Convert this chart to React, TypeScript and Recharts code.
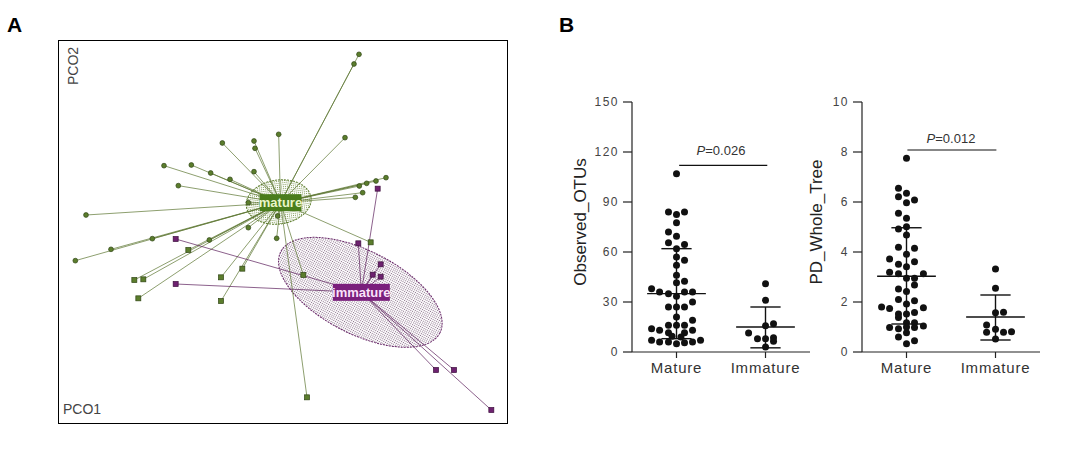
import React from 'react';
import { ScatterChart, Scatter, XAxis, YAxis, ReferenceLine, ReferenceArea, ReferenceDot } from 'recharts';

const FONT = '"Liberation Sans", Arial, sans-serif';

// ---- Panel A: PCoA coordinates (PCO1 / PCO2) ----
const matureP1 = [0.227, 0.212, -0.014, 0.185, -0.183, -0.088, -0.085, -0.358, -0.276, -0.218, -0.16, -0.088, -0.315, 0.308, 0.278, 0.25, 0.228, 0.238, 0.216, -0.592, -0.105, -0.105, -0.02, -0.017, 0.262, -0.624, -0.517, -0.393, -0.222, -0.285, -0.447, -0.42, -0.435, -0.187, -0.123, -0.187, 0.06, 0.071];
const matureP2 = [0.537, 0.508, 0.297, 0.287, 0.271, 0.277, 0.255, 0.203, 0.205, 0.181, 0.162, 0.185, 0.143, 0.167, 0.157, 0.15, 0.142, 0.122, 0.108, 0.055, 0.092, 0.017, -0.015, 0.052, -0.027, -0.082, -0.048, -0.016, -0.02, -0.05, -0.14, -0.138, -0.195, -0.132, -0.106, -0.203, -0.125, -0.492];
const matureMarker = 'ccccccccccccccccccccccccsccccsssssssss';
const immatureP1 = [0.283, 0.225, 0.292, 0.268, 0.292, -0.323, -0.323, 0.458, 0.512, 0.624];
const immatureP2 = [0.134, -0.03, -0.093, -0.124, -0.13, -0.017, -0.152, -0.41, -0.41, -0.53];
const centroidP1 = [-0.0085, 0.234];
const centroidP2 = [0.092, -0.177];
// ellipses: centre, semi axes, rotation (deg)
const ellMature = { x: -0.014, y: 0.094, a: 0.098, b: 0.066, rot: -8 };
const ellImmature = { x: 0.231, y: -0.177, a: 0.268, b: 0.125, rot: 27 };

// ---- Panel B ----
const groups = ['Mature', 'Immature'];

const otuMatureOff = [0, -0.09, 0, 0.09, 0, -0.09, 0, -0.09, 0.09, 0, 0, 0.09, 0, 0, 0, 0.09, -0.28, -0.19, -0.09, 0, 0.09, 0.18, 0.18, -0.09, 0, 0.09, 0, 0.18, -0.09, 0, 0.09, -0.28, -0.19, 0.18, -0.09, 0.09, -0.05, 0.05, -0.28, -0.19, -0.09, 0, 0.09, 0.18, 0.27];
const otuMature = [107, 84, 82.5, 84, 77.5, 72, 69.5, 65.5, 64.5, 62, 57, 55, 52, 46, 41.5, 42.5, 38, 36, 35, 33.5, 36, 36, 30, 27, 27, 27, 21, 19, 16, 16, 16, 14, 13, 13, 11.5, 11.5, 9.5, 9, 7, 6, 6, 5, 5.5, 6, 7];
const otuImmatureOff = [0, 0, 0, 0.09, -0.19, -0.09, 0, 0.09, 0.09, 0];
const otuImmature = [41, 31, 15.8, 17, 11.4, 8, 8, 8.5, 6.5, 3];
const otuMean = [35, 15];
const otuLow = [8, 2.5];
const otuHigh = [62, 27];

const pdMatureOff = [0, -0.09, 0, -0.09, 0.09, 0, -0.09, 0, -0.09, 0, 0, -0.09, 0.09, 0, -0.19, -0.09, 0, 0.09, -0.19, -0.09, 0, 0.09, 0.19, 0.09, -0.09, 0, -0.09, 0.09, 0, -0.28, -0.19, 0.19, -0.09, 0, 0.09, -0.09, 0, 0.09, -0.19, -0.09, 0, 0.09, 0.19, 0, -0.09, 0, 0.09];
const pdMature = [7.75, 6.55, 6.35, 6.21, 6.08, 5.97, 5.55, 5.35, 4.92, 5.01, 4.68, 4.19, 4.15, 3.91, 3.72, 3.51, 3.41, 3.61, 3.19, 3.13, 2.95, 2.95, 3.13, 2.68, 2.52, 2.42, 2.1, 2.05, 1.92, 1.8, 1.74, 1.77, 1.52, 1.52, 1.58, 1.38, 1.17, 1.17, 0.98, 0.93, 1.0, 0.98, 1.04, 0.77, 0.6, 0.33, 0.45];
const pdImmatureOff = [0, 0, 0, 0.09, -0.1, -0.1, 0, 0.09, 0.18, 0];
const pdImmature = [3.32, 2.55, 1.57, 1.59, 1.08, 0.79, 0.91, 0.79, 0.81, 0.52];
const pdMean = [3.03, 1.4];
const pdLow = [1.12, 0.48];
const pdHigh = [4.97, 2.28];

const otuTicks = [0, 30, 60, 90, 120, 150];
const pdTicks = [0, 2, 4, 6, 8, 10];

const ellipseShape = (id: string, dot: string, stroke: string, rot: number) => (p: any) => {
  const w = Math.abs(p.width);
  const h = Math.abs(p.height);
  const cx = p.x + p.width / 2;
  const cy = p.y + p.height / 2;
  return (
    <g>
      <defs>
        <pattern id={id} width={2} height={2} patternUnits="userSpaceOnUse">
          <rect width={1} height={1} fill={dot} />
        </pattern>
      </defs>
      <ellipse cx={cx} cy={cy} rx={w / 2} ry={h / 2} transform={`rotate(${rot} ${cx} ${cy})`}
        fill={`url(#${id})`} stroke={stroke} strokeWidth={1} strokeDasharray="2 1" />
    </g>
  );
};

const tagShape = (text: string, bg: string, fg: string, w: number) => (p: any) => (
  <g>
    <rect x={p.cx - w / 2} y={p.cy - 8.5} width={w} height={17} fill={bg} />
    <text x={p.cx} y={p.cy + 4.5} textAnchor="middle" fill={fg} fontSize={13} fontWeight="bold" fontFamily={FONT}>{text}</text>
  </g>
);

const pointShape = (fill: string, stroke: string) => (p: any) =>
  p.payload.m === 's'
    ? <rect x={p.cx - 2.5} y={p.cy - 2.5} width={5} height={5} fill={fill} stroke={stroke} strokeWidth={0.7} />
    : <circle cx={p.cx} cy={p.cy} r={2.4} fill={fill} stroke={stroke} strokeWidth={0.7} />;

function PcoaPanel() {
  const mature = matureP1.map((x, i) => ({ x, y: matureP2[i], m: matureMarker[i] }));
  const immature = immatureP1.map((x, i) => ({ x, y: immatureP2[i], m: 's' }));
  return (
    <div style={{ position: 'absolute', left: 58, top: 40, width: 450, height: 384, border: '1px solid #000', boxSizing: 'border-box' }}>
      <ScatterChart width={448} height={382} margin={{ top: 0, right: 0, bottom: 0, left: 0 }}>
        <XAxis type="number" dataKey="x" domain={[-0.673, 0.671]} allowDataOverflow hide />
        <YAxis type="number" dataKey="y" domain={[-0.569, 0.577]} allowDataOverflow hide />
        <ReferenceArea x1={ellImmature.x - ellImmature.a} x2={ellImmature.x + ellImmature.a}
          y1={ellImmature.y - ellImmature.b} y2={ellImmature.y + ellImmature.b}
          shape={ellipseShape('dotPurple', '#8a6f8a', '#6a2a6a', ellImmature.rot)} ifOverflow="visible" />
        <ReferenceArea x1={ellMature.x - ellMature.a} x2={ellMature.x + ellMature.a}
          y1={ellMature.y - ellMature.b} y2={ellMature.y + ellMature.b}
          shape={ellipseShape('dotGreen', '#7f9a55', '#5d7d2d', ellMature.rot)} ifOverflow="visible" />
        {mature.map((p, i) => (
          <ReferenceLine key={'ml' + i} segment={[{ x: p.x, y: p.y }, { x: centroidP1[0], y: centroidP2[0] }]}
            stroke="#5b7530" strokeWidth={0.7} ifOverflow="visible" />
        ))}
        {immature.map((p, i) => (
          <ReferenceLine key={'il' + i} segment={[{ x: p.x, y: p.y }, { x: centroidP1[1], y: centroidP2[1] }]}
            stroke="#5a1d5a" strokeWidth={0.7} ifOverflow="visible" />
        ))}
        <Scatter data={mature} shape={pointShape('#5b7d2c', '#2f4515')} isAnimationActive={false} />
        <Scatter data={immature} shape={pointShape('#6e2270', '#3d0f3d')} isAnimationActive={false} />
        <ReferenceDot x={centroidP1[0]} y={centroidP2[0]} shape={tagShape('mature', '#4a7d1c', '#eaf5c8', 42)} ifOverflow="visible" />
        <ReferenceDot x={centroidP1[1]} y={centroidP2[1]} shape={tagShape('immature', '#7a1f7c', '#fbe3fb', 57)} ifOverflow="visible" />
      </ScatterChart>
    </div>
  );
}

interface DotPlotProps {
  left: number;
  yLabel: string;
  labelDx: number;
  ticks: number[];
  mature: number[];
  matureOff: number[];
  immature: number[];
  immatureOff: number[];
  mean: number[];
  low: number[];
  high: number[];
  bracketY: number;
  bracketX: number[];
  pText: string;
  pY: number;
}

const yTick = (p: any) => (
  <text x={p.x} y={p.y} dy="0.35em" textAnchor="end" fontSize={12} fill="#444" fontFamily={FONT} letterSpacing={1.5}>
    {p.payload.value}
  </text>
);

const xTick = (p: any) => (
  <text x={p.x} y={p.y} dy="0.8em" textAnchor="middle" fontSize={15} fill="#333" fontFamily={FONT} letterSpacing={0.8}>
    {groups[p.payload.value - 1]}
  </text>
);

function DotPlot(props: DotPlotProps) {
  const { left, yLabel, labelDx, ticks, mature, matureOff, immature, immatureOff, mean, low, high, bracketY, bracketX, pText, pY } = props;
  const pts = [
    ...mature.map((v, i) => ({ x: 1 + matureOff[i], y: v })),
    ...immature.map((v, i) => ({ x: 2 + immatureOff[i], y: v })),
  ];
  const top = ticks[ticks.length - 1];
  return (
    <div style={{ position: 'absolute', left, top: 90 }}>
      <ScatterChart width={260} height={300} margin={{ top: 12, right: 10, bottom: 8, left: 0 }}>
        <XAxis type="number" dataKey="x" domain={[0.5, 2.5]} ticks={[1, 2]} allowDataOverflow
          height={30} tickSize={6} tickMargin={3}
          axisLine={{ stroke: '#222', strokeWidth: 1.2 }} tickLine={{ stroke: '#222', strokeWidth: 1.2 }}
          tick={xTick} />
        <YAxis type="number" dataKey="y" domain={[0, top]} ticks={ticks} allowDataOverflow width={72}
          tickSize={9} tickMargin={4}
          axisLine={{ stroke: '#222', strokeWidth: 1.2 }} tickLine={{ stroke: '#222', strokeWidth: 1.2 }}
          tick={yTick}
          label={{
            content: (lp: any) => {
              const vb = lp.viewBox;
              const cx = vb.x + labelDx;
              const cy = vb.y + vb.height / 2 - 5;
              return (
                <text x={cx} y={cy} transform={`rotate(-90 ${cx} ${cy})`} textAnchor="middle" dy="0.35em"
                  fontSize={17} fill="#222" fontFamily={FONT}>{yLabel}</text>
              );
            },
          }} />
        {[1, 2].map((g, i) => (
          <ReferenceLine key={'v' + g} segment={[{ x: g, y: low[i] }, { x: g, y: high[i] }]} stroke="#111" strokeWidth={1.4} />
        ))}
        {[1, 2].map((g, i) => (
          <ReferenceLine key={'m' + g} segment={[{ x: g - 0.33, y: mean[i] }, { x: g + 0.33, y: mean[i] }]} stroke="#111" strokeWidth={1.4} />
        ))}
        {[1, 2].map((g, i) => (
          <ReferenceLine key={'h' + g} segment={[{ x: g - 0.17, y: high[i] }, { x: g + 0.17, y: high[i] }]} stroke="#111" strokeWidth={1.4} />
        ))}
        {[1, 2].map((g, i) => (
          <ReferenceLine key={'l' + g} segment={[{ x: g - 0.17, y: low[i] }, { x: g + 0.17, y: low[i] }]} stroke="#111" strokeWidth={1.4} />
        ))}
        <ReferenceLine segment={[{ x: bracketX[0], y: bracketY }, { x: bracketX[1], y: bracketY }]} stroke="#111" strokeWidth={1.2} />
        <Scatter data={pts} isAnimationActive={false}
          shape={(p: any) => <circle cx={p.cx} cy={p.cy} r={3.5} fill="#111" />} />
        <ReferenceDot x={1.5} y={pY} ifOverflow="visible"
          shape={(p: any) => (
            <text x={p.cx} y={p.cy} dy="0.35em" textAnchor="middle" fontSize={13} fill="#333" fontFamily={FONT}>
              <tspan fontStyle="italic">P</tspan>{pText}
            </text>
          )} />
      </ScatterChart>
    </div>
  );
}

export default function App() {
  return (
    <div style={{ position: 'absolute', left: 0, top: 0, width: 1087, height: 449, background: '#fff', fontFamily: FONT }}>
      <div style={{ position: 'absolute', left: 7, top: 14, fontSize: 21, fontWeight: 'bold', lineHeight: '21px' }}>A</div>
      <div style={{ position: 'absolute', left: 559, top: 14, fontSize: 21, fontWeight: 'bold', lineHeight: '21px' }}>B</div>
      <PcoaPanel />
      <div style={{ position: 'absolute', left: 53, top: 59, width: 40, height: 14, lineHeight: '14px', fontSize: 14, color: '#444', textAlign: 'center', transform: 'rotate(-90deg)' }}>PCO2</div>
      <div style={{ position: 'absolute', left: 63, top: 402, fontSize: 14, lineHeight: '14px', color: '#444' }}>PCO1</div>
      <DotPlot left={560} yLabel="Observed_OTUs" labelDx={20} ticks={otuTicks}
        mature={otuMature} matureOff={otuMatureOff} immature={otuImmature} immatureOff={otuImmatureOff}
        mean={otuMean} low={otuLow} high={otuHigh} bracketY={112} bracketX={[1.03, 2.02]} pText="=0.026" pY={121} />
      <DotPlot left={790} yLabel="PD_Whole_Tree" labelDx={26} ticks={pdTicks}
        mature={pdMature} matureOff={pdMatureOff} immature={pdImmature} immatureOff={pdImmatureOff}
        mean={pdMean} low={pdLow} high={pdHigh} bracketY={8.08} bracketX={[1.01, 2.01]} pText="=0.012" pY={8.55} />
    </div>
  );
}
